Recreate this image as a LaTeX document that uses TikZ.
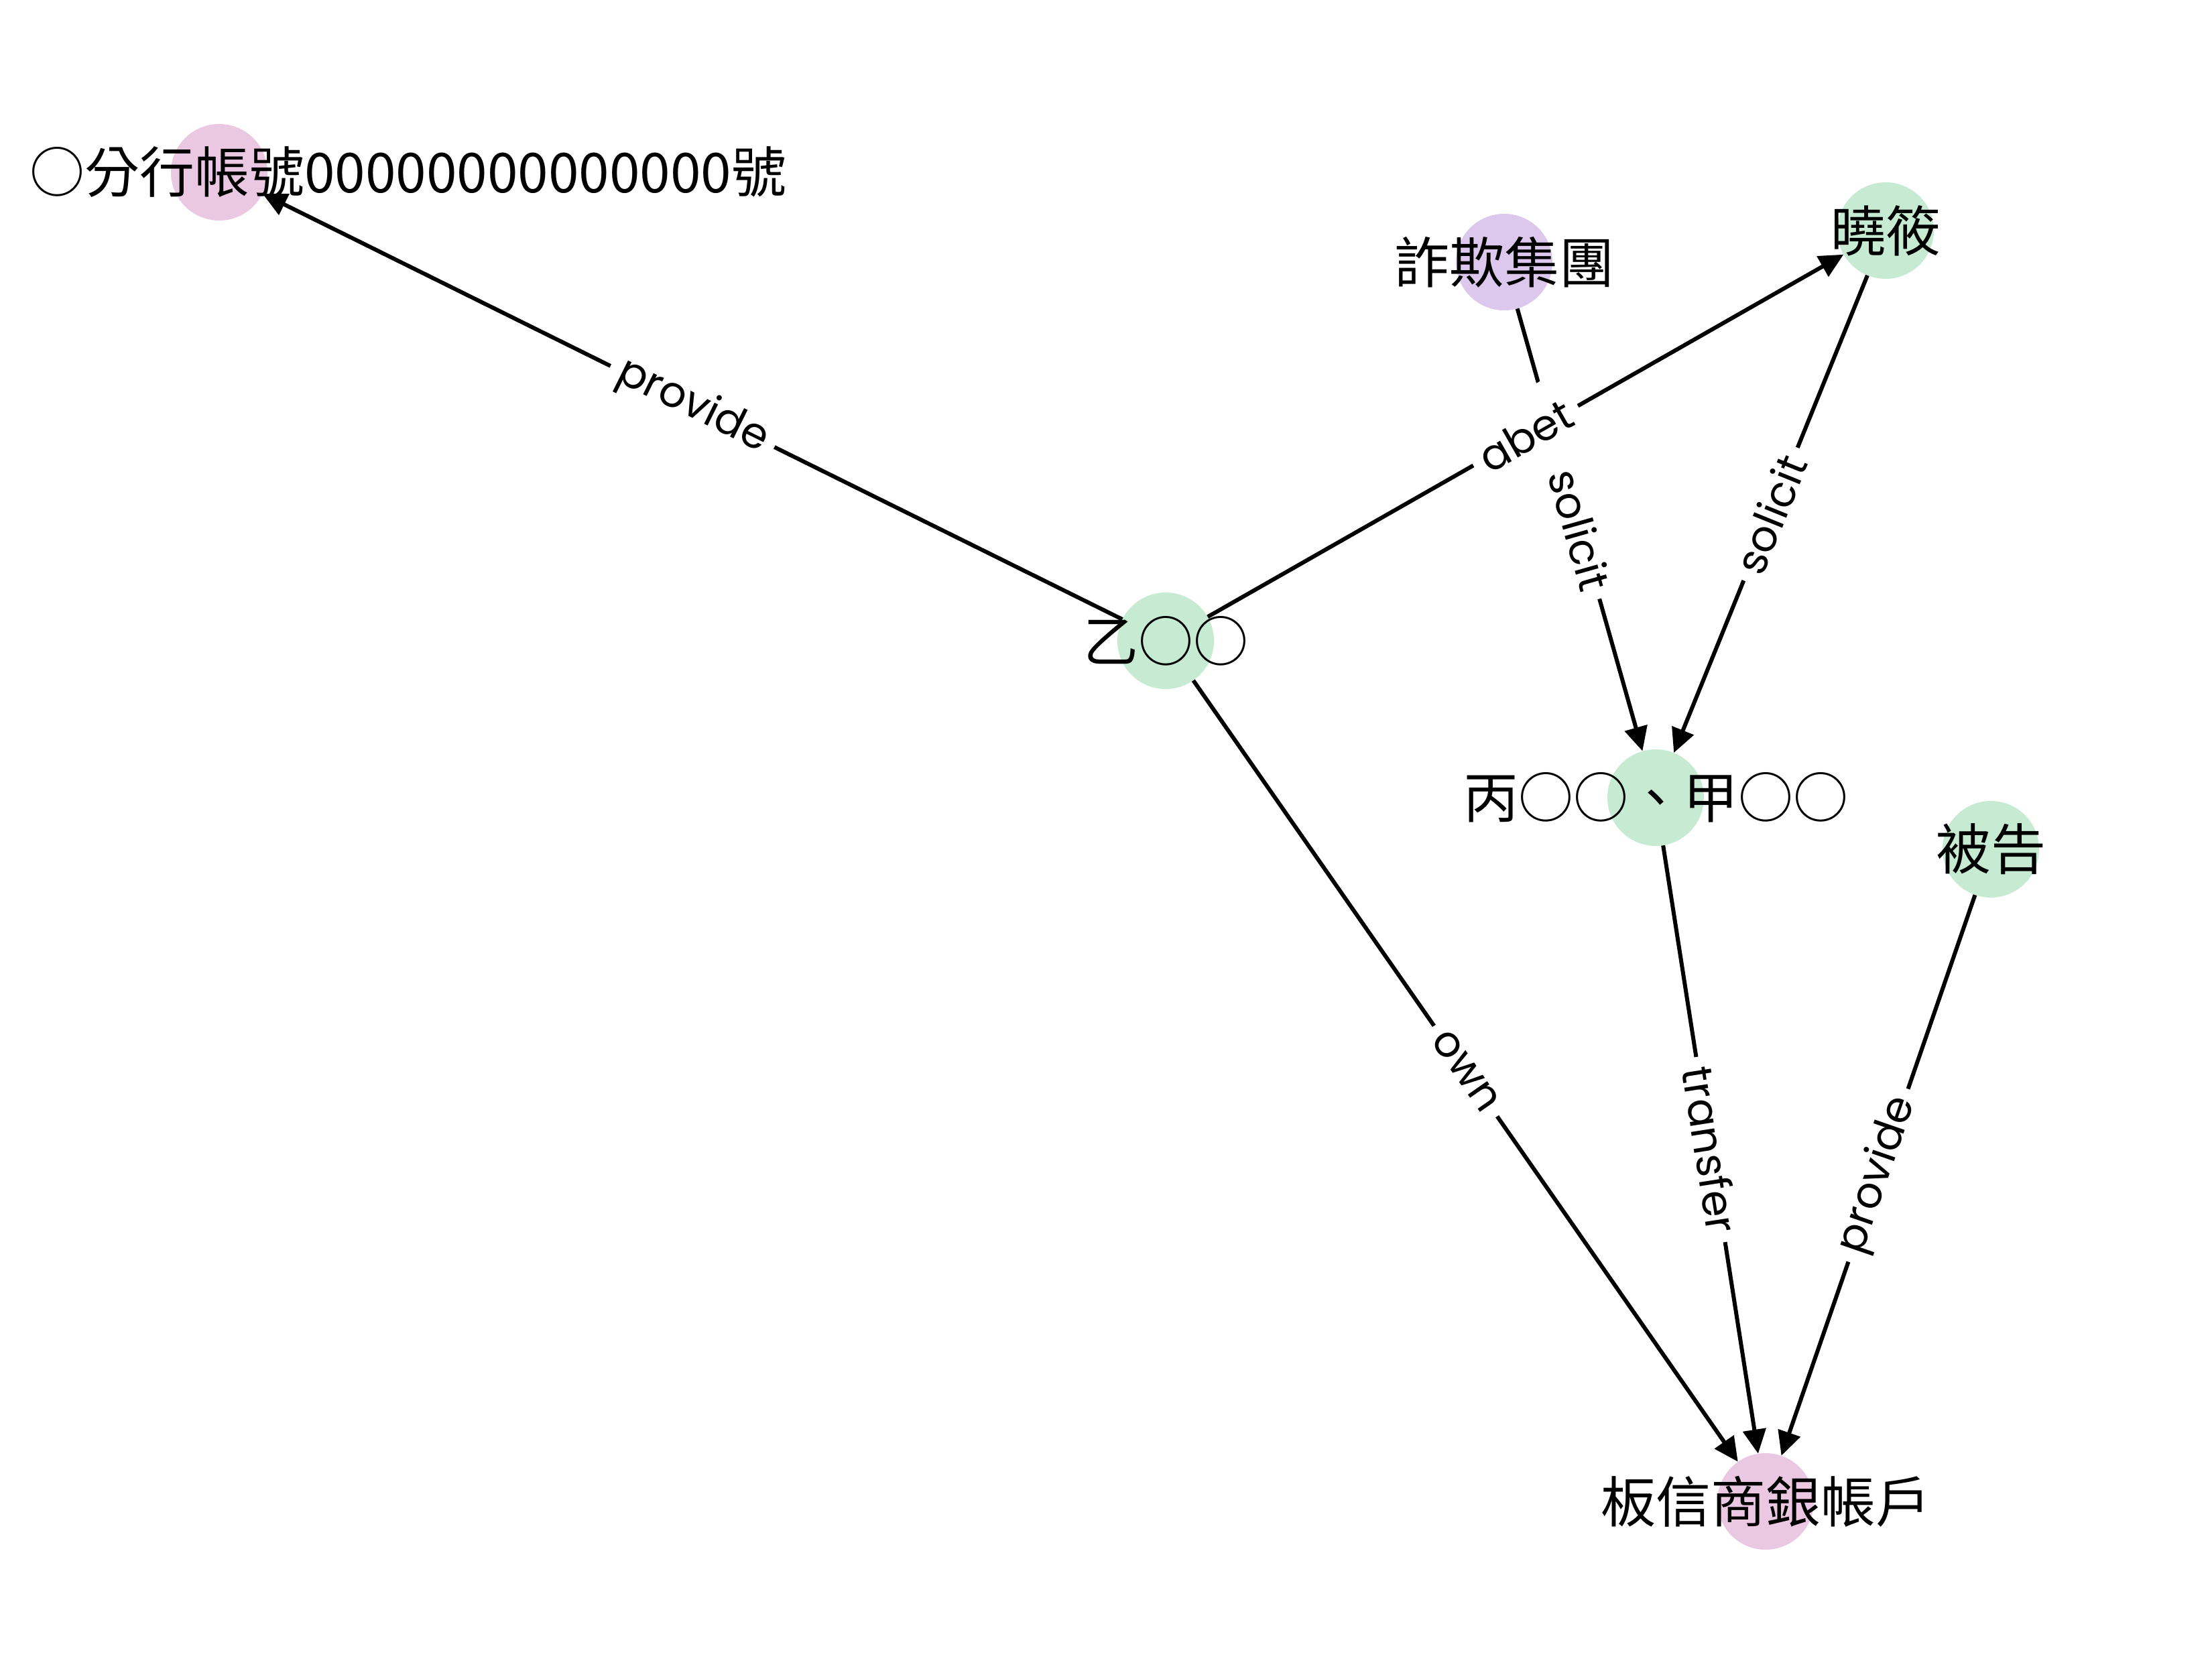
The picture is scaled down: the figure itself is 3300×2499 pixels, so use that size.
\documentclass[tikz,border=0pt]{standalone}
\usepackage{fontspec}
\newfontfamily\cjk{Noto Sans CJK TC}
\newfontfamily\lab{Poppins}
\usetikzlibrary{arrows.meta}
\definecolor{cgreen}{RGB}{198,235,210}
\definecolor{cpink}{RGB}{234,200,226}
\definecolor{cpurple}{RGB}{220,200,236}
\begin{document}
\begin{tikzpicture}[x=1pt,y=-1pt,
  dot/.style={circle,minimum size=144pt,inner sep=0pt,draw=none},
  txt/.style={inner sep=0pt,font=\cjk\fontsize{82}{98}\selectfont},
  rel/.style={line width=6pt,-{Triangle[length=36pt,width=34pt]}},
  lbl/.style={midway,sloped,fill=white,inner xsep=15pt,inner ysep=36pt,font=\lab\fontsize{64}{76}\selectfont}]
\useasboundingbox[fill=white] (0,0) rectangle (3300,2499);
% node circles
\node[dot,fill=cpink] (A) at (327,257) {};
\node[dot,fill=cpurple] (B) at (2244,391) {};
\node[dot,fill=cgreen] (C) at (2813,344) {};
\node[dot,fill=cgreen] (D) at (1739,956) {};
\node[dot,fill=cgreen] (E) at (2470,1190) {};
\node[dot,fill=cgreen] (F) at (2970,1267) {};
\node[dot,fill=cpink] (G) at (2634,2240) {};
% connectors
\draw[rel] (D) -- (A);
\draw[rel] (D) -- (C);
\draw[rel] (B) -- (E);
\draw[rel] (C) -- (E);
\draw[rel] (D) -- (G);
\draw[rel] (E) -- (G);
\draw[rel] (F) -- (G);
% connector labels
\path (D) -- node[lbl]{provide} (A);
\path (D) -- node[lbl]{abet} (C);
\path (B) -- node[lbl]{solicit} (E);
\path (C) -- node[lbl]{solicit} (E);
\path (D) -- node[lbl]{own} (G);
\path (E) -- node[lbl]{transfer} (G);
\path (F) -- node[lbl]{provide} (G);
% texts
\node[txt,anchor=west] (At) at (44,257) {○分行帳號00000000000000號};
\node[txt] (Bt) at (B) {詐欺集團};
\node[txt] (Ct) at (C) {曉筱};
\node[txt] (Dt) at (D) {乙○○};
\node[txt] (Et) at (E) {丙○○、甲○○};
\node[txt] (Ft) at (F) {被告};
\node[txt] (Gt) at (G) {板信商銀帳戶};
\end{tikzpicture}
\end{document}
